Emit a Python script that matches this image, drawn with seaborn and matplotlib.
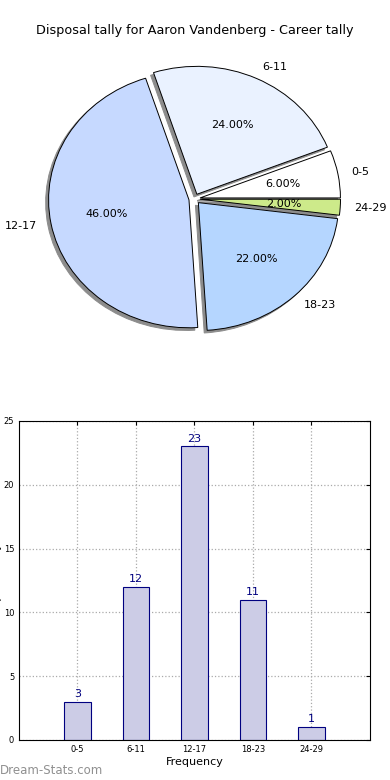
import matplotlib
matplotlib.use('Agg')
import matplotlib.pyplot as plt
import seaborn as sns

# chart data
bins = ['0-5', '6-11', '12-17', '18-23', '24-29']
tally = [3, 12, 23, 11, 1]
shares = [6.0, 24.0, 46.0, 22.0, 2.0]
slice_colours = ['#ffffff', '#eaf2ff', '#c6d9ff', '#b5d6ff', '#cdea8a']

sns.set_style('white')
plt.rcParams['font.family'] = ['DejaVu Sans']
plt.rcParams['text.color'] = 'black'
plt.rcParams['axes.labelcolor'] = 'black'
plt.rcParams['xtick.color'] = 'black'
plt.rcParams['ytick.color'] = 'black'

fig = plt.figure(figsize=(3.9, 7.8), dpi=100)

# pie on top
ax_pie = fig.add_axes([0.0487, 0.54, 0.9, 0.41])
ax_pie.pie(shares, labels=bins, colors=slice_colours, autopct='%1.2f%%',
           explode=[0.04] * 5, startangle=0, counterclock=True,
           shadow={'ox': -0.015, 'oy': -0.015, 'facecolor': '0.55',
                   'edgecolor': '0.55', 'alpha': 1},
           wedgeprops={'edgecolor': 'black', 'linewidth': 0.7},
           textprops={'fontsize': 8, 'color': 'black'})
ax_pie.set_aspect('auto')
ax_pie.set_xlim(-1.25, 1.25)
ax_pie.set_ylim(-1.25, 1.25)
fig.text(0.5, 0.961, 'Disposal tally for Aaron Vandenberg - Career tally',
         ha='center', va='center', fontsize=9.2)

# bar chart below
ax = fig.add_axes([0.0487, 0.0513, 0.9, 0.409])
sns.barplot(x=bins, y=tally, ax=ax, width=0.45, color='#cccce6',
            edgecolor='#000080', linewidth=0.8, saturation=1)
for c in ax.containers:
    ax.bar_label(c, color='#000080', fontsize=8, padding=2)
ax.set_xlim(-1, 5)
ax.set_ylim(0, 25)
ax.set_yticks([0, 5, 10, 15, 20, 25])
ax.grid(True, linestyle=':', color='#aaaaaa', linewidth=0.9)
ax.set_axisbelow(True)
for s in ax.spines.values():
    s.set_color('black')
    s.set_linewidth(0.8)
ax.tick_params(labelsize=6, direction='in', top=True, right=True, length=3)
ax.set_xlabel('Frequency', fontsize=8, labelpad=2)
ax.set_ylabel('Disposal Tally', fontsize=8, labelpad=1)

fig.text(0.0, 0.0125, 'Dream-Stats.com', fontsize=8.5, color='#909090',
         ha='left', va='center')

fig.savefig('out.png', dpi=100)
